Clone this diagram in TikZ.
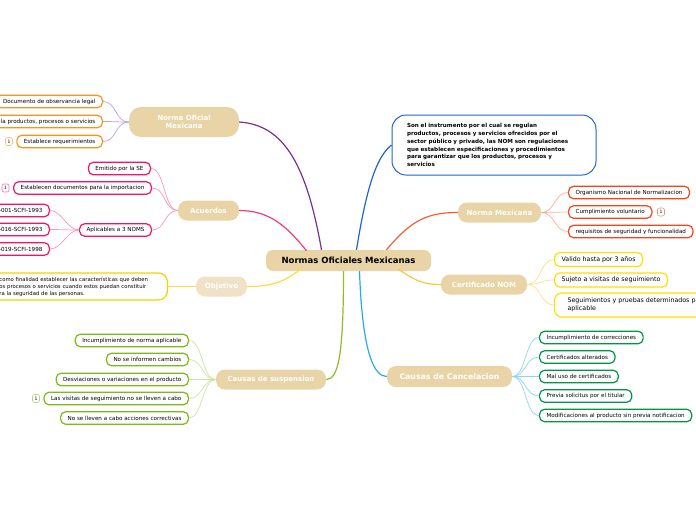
\documentclass[tikz,border=0pt]{standalone}
\usepackage{fontspec}
\setmainfont{DejaVu Sans}
\usetikzlibrary{positioning,calc}
\definecolor{topicfill}{RGB}{232,212,166}
\definecolor{topicfade}{RGB}{240,226,198}
\definecolor{nofline}{RGB}{122,48,140}
\definecolor{noftwig}{RGB}{195,160,205}
\definecolor{nofleaf}{RGB}{247,148,29}
\definecolor{aculine}{RGB}{240,60,130}
\definecolor{acutwig}{RGB}{247,150,190}
\definecolor{aculeaf}{RGB}{236,20,110}
\definecolor{objline}{RGB}{250,220,70}
\definecolor{objleaf}{RGB}{245,210,0}
\definecolor{susline}{RGB}{140,190,40}
\definecolor{sustwig}{RGB}{205,228,160}
\definecolor{susleaf}{RGB}{125,185,25}
\definecolor{descline}{RGB}{30,100,210}
\definecolor{nmxline}{RGB}{242,95,55}
\definecolor{nmxtwig}{RGB}{250,175,155}
\definecolor{nmxleaf}{RGB}{240,70,30}
\definecolor{certline}{RGB}{250,200,60}
\definecolor{certtwig}{RGB}{253,222,145}
\definecolor{certleaf}{RGB}{250,225,0}
\definecolor{canline}{RGB}{40,170,230}
\definecolor{cantwig}{RGB}{145,212,242}
\definecolor{canleaf}{RGB}{0,150,70}
\tikzset{
    topic/.style={fill=topicfill,text=white,rounded corners=9pt,font=\fontsize{7}{8.5}\selectfont\bfseries,align=center,minimum height=20pt,inner sep=2pt},
    leaf/.style={draw=#1,fill=white,line width=1.2pt,rounded corners=5pt,font=\fontsize{5.6}{7}\selectfont,minimum height=12.5pt,inner xsep=7pt,inner ysep=1.5pt},
    badge/.style={draw=#1,line width=.6pt,rounded corners=2pt,font=\fontsize{4.5}{5}\selectfont,minimum width=7pt,minimum height=8pt,inner sep=0pt},
    branch/.style={line width=1.2pt,draw=#1},
    twig/.style={line width=.7pt,draw=#1},
}

\begin{document}
\begin{tikzpicture}[x=1pt,y=-1pt]
    \useasboundingbox (0,0) rectangle (696,520);
    % centre and main topics
    \node[topic,text=black,font=\fontsize{8.5}{10}\selectfont\bfseries,minimum width=165pt,minimum height=21pt,rounded corners=7pt] (noms) at (348.5,260.5) {Normas Oficiales Mexicanas};
    \node[topic,minimum width=110pt,minimum height=30pt,rounded corners=12pt] (nof) at (184,122) {Norma Oficial\\Mexicana};
    \node[topic,minimum width=61pt] (acu) at (208.5,210.5) {Acuerdos};
    \node[topic,fill=topicfade,minimum width=51pt] (obj) at (221.5,286.5) {Objetivo};
    \node[topic,minimum width=110pt] (sus) at (271,379.5) {Causas de suspension};
    \node[topic,minimum width=83pt] (nmx) at (499.5,212.5) {Norma Mexicana};
    \node[topic,minimum width=86pt] (cert) at (484,284.5) {Certificado NOM};
    \node[topic,minimum width=125pt,minimum height=21pt,font=\fontsize{7.8}{9}\selectfont\bfseries] (can) at (449.5,376.5) {Causas de Cancelacion};
    \node[draw=descline,line width=1pt,fill=white,rounded corners=14pt,minimum width=204pt,minimum height=60pt,text width=174pt,align=left,inner xsep=15pt,font=\fontsize{5.6}{7.9}\selectfont\bfseries] (desc) at (494,145) {Son el instrumento por el cual se regulan\\productos, procesos y servicios ofrecidos por el\\sector público y privado, las NOM son regulaciones\\que establecen especificaciones y procedimientos\\para garantizar que los productos, procesos y\\servicios};

    \draw[branch=nofline] ($(noms.north)+(-27,0)$) .. controls +(-15,-85) and +(45,3) .. (nof.east);
    \draw[branch=aculine] ($(noms.north)+(-42,1)$) .. controls +(-20,-25) and +(30,0) .. (acu.east);
    \draw[branch=objline] ($(noms.south)+(-48,-2)$) .. controls +(-15,12) and +(25,0) .. (obj.east);
    \draw[branch=susline] ($(noms.south)+(-5,0)$) .. controls +(0,85) and +(12,0) .. (sus.east);
    \draw[branch=descline] ($(noms.north)+(8,0)$) .. controls +(12,-75) and +(-12,10) .. (desc.west);
    \draw[branch=nmxline] ($(noms.north)+(38,0)$) .. controls +(25,-30) and +(-30,0) .. (nmx.west);
    \draw[branch=certline] ($(noms.south)+(50,-2)$) .. controls +(15,10) and +(-20,0) .. (cert.west);
    \draw[branch=canline] ($(noms.south)+(11,0)$) .. controls +(3,85) and +(-12,0) .. (can.west);

    % Norma Oficial Mexicana
    \node[leaf=nofleaf,anchor=east] (nof1) at (103,101.5) {Documento de observancia legal};
    \node[leaf=nofleaf,anchor=east] (nof2) at (103,121.5) {Regula productos, procesos o servicios};
    \node[leaf=nofleaf,anchor=east] (nof3) at (103,141.5) {Establece requerimientos};
    \node[badge=nofleaf!60] (nofb) at (9,141.5) {1};
    \foreach \n in {nof1,nof2,nof3}
        \draw[twig=noftwig] (nof.west) .. controls +(-14,0) and +(14,0) .. (\n.east);

    % Acuerdos
    \node[leaf=aculeaf,anchor=east] (acu1) at (151,168.5) {Emitido por la SE};
    \node[leaf=aculeaf,anchor=east] (acu2) at (152,188) {Establecen documentos para la importacion};
    \node[leaf=aculeaf,anchor=east] (acu3) at (152,230) {Aplicables a 3 NOMS};
    \node[badge=aculeaf!60] (acub) at (5.5,188) {1};
    \foreach \n in {acu1,acu2,acu3}
        \draw[twig=acutwig] (acu.west) .. controls +(-14,0) and +(14,0) .. (\n.east);
    \node[leaf=aculeaf,anchor=east] (apl1) at (50,210.5) {NOM-001-SCFI-1993};
    \node[leaf=aculeaf,anchor=east] (apl2) at (50,229.5) {NOM-016-SCFI-1993};
    \node[leaf=aculeaf,anchor=east] (apl3) at (50,249) {NOM-019-SCFI-1998};
    \foreach \n in {apl1,apl2,apl3}
        \draw[twig=acutwig] (acu3.west) .. controls +(-12,0) and +(12,0) .. (\n.east);

    % Objetivo
    \node[leaf=objleaf,anchor=east,text width=160pt,align=left,inner xsep=8pt,minimum height=27pt,rounded corners=9pt,font=\fontsize{5.3}{7}\selectfont] (obj1) at (168,286.5) {como finalidad establecer las características que deben\\os procesos o servicios cuando estos puedan constituir\\ra la seguridad de las personas.};
    \draw[twig=objline] (obj.west) -- (obj1.east);

    % Causas de suspension
    \node[leaf=susleaf,anchor=east] (sus1) at (189,340.5) {Incumplimiento de norma aplicable};
    \node[leaf=susleaf,anchor=east] (sus2) at (189,359.5) {No se informen cambios};
    \node[leaf=susleaf,anchor=east] (sus3) at (189,379.5) {Desviaciones o variaciones en el producto};
    \node[leaf=susleaf,anchor=east] (sus4) at (189,398.5) {Las visitas de seguimiento no se lleven a cabo};
    \node[leaf=susleaf,anchor=east] (sus5) at (189,418) {No se lleven a cabo acciones correctivas};
    \node[badge=susleaf!60] (susb) at (36,398.5) {1};
    \foreach \n in {sus1,sus2,sus3,sus4,sus5}
        \draw[twig=sustwig] (sus.west) .. controls +(-14,0) and +(14,0) .. (\n.east);

    % Norma Mexicana
    \node[leaf=nmxleaf,anchor=west] (nmx1) at (568,192.5) {Organismo Nacional de Normalizacion};
    \node[leaf=nmxleaf,anchor=west] (nmx2) at (568,212) {Cumplimiento voluntario};
    \node[leaf=nmxleaf,anchor=west] (nmx3) at (568,231.5) {requisitos de seguridad y funcionalidad};
    \node[badge=nmxleaf!60] (nmxb) at (661,212) {1};
    \foreach \n in {nmx1,nmx2,nmx3}
        \draw[twig=nmxtwig] (nmx.east) .. controls +(14,0) and +(-14,0) .. (\n.west);

    % Certificado NOM
    \node[leaf=certleaf,anchor=west,font=\fontsize{6.3}{7.5}\selectfont,minimum height=14pt] (cert1) at (554,259.5) {Valido hasta por 3 años};
    \node[leaf=certleaf,anchor=west,font=\fontsize{6.3}{7.5}\selectfont,minimum height=14pt] (cert2) at (554,280) {Sujeto a visitas de seguimiento};
    \node[leaf=certleaf,anchor=west,font=\fontsize{6.3}{7.5}\selectfont,align=left,minimum height=24pt,rounded corners=7pt,inner xsep=13pt] (cert3) at (554,305) {Seguimientos y pruebas determinados por\\aplicable};
    \foreach \n in {cert1,cert2,cert3}
        \draw[twig=certtwig] (cert.east) .. controls +(14,0) and +(-14,0) .. (\n.west);

    % Causas de Cancelacion
    \node[leaf=canleaf,anchor=west] (can1) at (539,337.5) {Incumplimiento de correcciones};
    \node[leaf=canleaf,anchor=west] (can2) at (539,357) {Certificados alterados};
    \node[leaf=canleaf,anchor=west] (can3) at (539,376.5) {Mal uso de certificados};
    \node[leaf=canleaf,anchor=west] (can4) at (539,396) {Previa solicitus por el titular};
    \node[leaf=canleaf,anchor=west] (can5) at (539,415.5) {Modificaciones al producto sin previa notificacion};
    \foreach \n in {can1,can2,can3,can4,can5}
        \draw[twig=cantwig] (can.east) .. controls +(14,0) and +(-14,0) .. (\n.west);
\end{tikzpicture}
\end{document}
